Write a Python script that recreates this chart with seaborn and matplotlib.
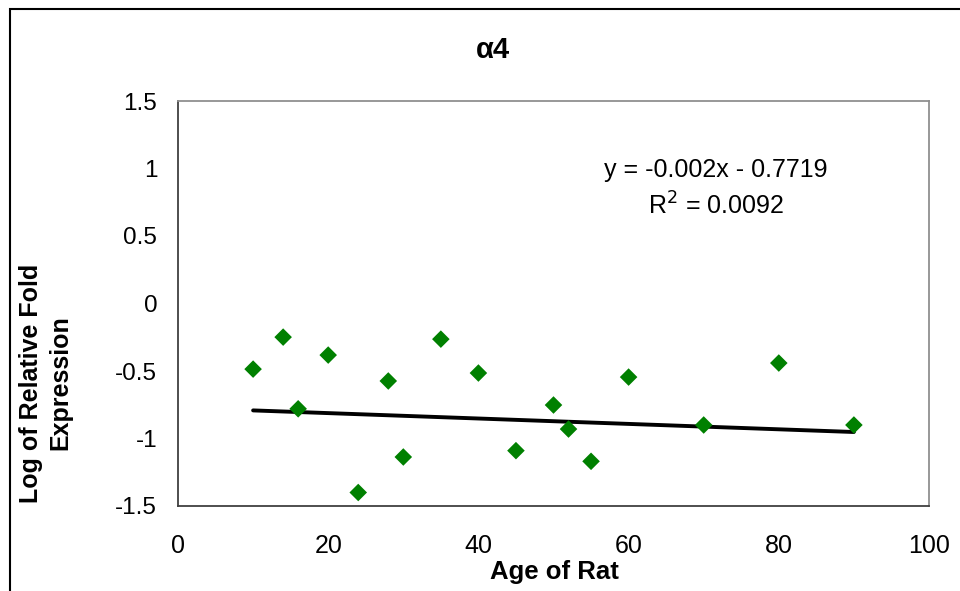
import matplotlib
matplotlib.use("Agg")
import matplotlib.pyplot as plt
import seaborn as sns
import numpy as np
import pandas as pd
from matplotlib.patches import Rectangle

# Data
age = [10, 14, 16, 20, 24, 28, 30, 35, 40, 45, 50, 52, 55, 60, 70, 80, 90]
log_fold = [-0.486, -0.249, -0.78, -0.382, -1.40, -0.574, -1.137, -0.264, -0.515,
            -1.09, -0.752, -0.93, -1.169, -0.545, -0.90, -0.441, -0.90]
trend_slope = -0.002
trend_intercept = -0.7719
trend_x = [10, 90]
x_ticks = [0, 20, 40, 60, 80, 100]
y_ticks = [-1.5, -1, -0.5, 0, 0.5, 1, 1.5]
y_tick_labels = ["-1.5", "-1", "-0.5", "0", "0.5", "1", "1.5"]

sns.set_theme(style="white")
plt.rcParams['font.family'] = ['Liberation Sans', 'DejaVu Sans']
plt.rcParams['text.color'] = 'black'
plt.rcParams['xtick.color'] = 'black'
plt.rcParams['ytick.color'] = 'black'

fig = plt.figure(figsize=(9.6, 5.91), dpi=100)
ax = fig.add_axes([178/960, 1 - 506/591, (929-178)/960, (506-101)/591])

df = pd.DataFrame({"age": age, "val": log_fold})
sns.scatterplot(data=df, x="age", y="val", marker="D", color="#008000",
                s=80, edgecolor="none", ax=ax, zorder=3)

trend_df = pd.DataFrame({"x": trend_x,
                         "y": [trend_slope * v + trend_intercept for v in trend_x]})
sns.lineplot(data=trend_df, x="x", y="y", color="black", linewidth=2.8, ax=ax, zorder=2)

ax.set_xlim(0, 100)
ax.set_ylim(-1.5, 1.5)
ax.set_xticks(x_ticks)
ax.set_xticklabels([str(v) for v in x_ticks])
ax.set_yticks(y_ticks)
ax.set_yticklabels(y_tick_labels)
ax.set_xlabel("")
ax.set_ylabel("")
ax.tick_params(axis="both", which="major", direction="out", length=7, width=1,
               color="#404040", labelcolor="black")
ax.tick_params(axis="y", labelsize=17.5, pad=8)
ax.tick_params(axis="x", labelsize=18, pad=13)

for side in ["left", "bottom"]:
    ax.spines[side].set_color("#404040")
    ax.spines[side].set_linewidth(1.3)
for side in ["top", "right"]:
    ax.spines[side].set_color("#909090")
    ax.spines[side].set_linewidth(1.3)
    ax.spines[side].set_visible(True)

fig.text(493/960, 1 - 50/591, "α4", ha="center", va="center",
         fontsize=21, fontweight="bold")
fig.text(554/960, 1 - 572/591, "Age of Rat", ha="center", va="center",
         fontsize=18.5, fontweight="bold")
fig.text(46/960, 1 - 383/591, "Log of Relative Fold\nExpression", ha="center",
         va="center", rotation=90, fontsize=18, fontweight="bold",
         multialignment="center", linespacing=1.3)

fig.text(716/960, 1 - 170/591, "y = -0.002x - 0.7719", ha="center", va="center",
         fontsize=18)
fig.text(716/960, 1 - 206/591, "R$^2$ = 0.0092", ha="center", va="center",
         fontsize=18)

fig.patches.append(Rectangle((10/960, -0.2), 2, 1.2 - 9/591, transform=fig.transFigure,
                             fill=False, edgecolor="black", linewidth=1.5))

fig.savefig("out.png", dpi=100)
